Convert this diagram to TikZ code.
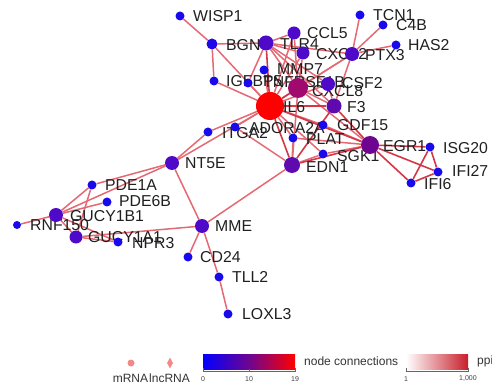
\documentclass[tikz,border=0pt]{standalone}
\usepackage{fontspec}
\setmainfont{Liberation Sans}
\usetikzlibrary{shapes.geometric}
\pgfdeclarelayer{edges}
\pgfdeclarelayer{labels}
\pgfsetlayers{edges,labels,main}
\definecolor{cblue}{RGB}{25,10,235}
\definecolor{cpurp}{RGB}{78,10,200}
\definecolor{cpurp2}{RGB}{95,10,175}
\definecolor{cdpurp}{RGB}{110,5,145}
\definecolor{cmag}{RGB}{160,10,110}
\definecolor{cred}{RGB}{255,0,0}
\definecolor{cedge}{RGB}{228,105,115}
\definecolor{cedge2}{RGB}{212,55,70}
\definecolor{cpink}{RGB}{245,135,135}
\definecolor{cppi}{RGB}{200,30,42}
\tikzset{
  gn/.style={circle,inner sep=0pt,minimum size=#1,draw=none},
  gn/.default=9pt,
  lab/.style={anchor=west,inner sep=0pt,font=\fontsize{15.8}{16}\selectfont,text=black!88},
  leg/.style={inner sep=0pt,font=\fontsize{12}{12}\selectfont,text=black!80},
  tick/.style={inner sep=0pt,font=\fontsize{7}{7}\selectfont,text=black!75},
  ed/.style={draw=cedge,line width=1.5pt},
  eds/.style={draw=cedge2,line width=1.6pt}
}
\begin{document}
\begin{tikzpicture}[x=1pt,y=-1pt]
\useasboundingbox (0,0) rectangle (492,387);
% ---------- nodes ----------
\node[gn=9pt,fill=cblue] (WISP1) at (180,16) {};
\node[gn=11pt,fill=cblue!90!cpurp] (BGN) at (212,44) {};
\node[gn=15pt,fill=cpurp] (TLR4) at (266,43) {};
\node[gn=13pt,fill=cpurp] (CCL5) at (294,33) {};
\node[gn=13pt,fill=cpurp] (CXCL2) at (303,53) {};
\node[gn=14pt,fill=cpurp] (PTX3) at (352,54) {};
\node[gn=9pt,fill=cblue] (TCN1) at (360,15) {};
\node[gn=9pt,fill=cblue] (C4B) at (383,25) {};
\node[gn=9pt,fill=cblue] (HAS2) at (396,45) {};
\node[gn=9pt,fill=cblue] (MMP7) at (264,70) {};
\node[gn=9pt,fill=cblue] (IGFBP5) at (214,81) {};
\node[gn=9pt,fill=cblue] (TNFRSF1B) at (248,83) {};
\node[gn=20pt,fill=cmag] (CXCL8) at (298,88) {};
\node[gn=14pt,fill=cpurp] (CSF2) at (328,84) {};
\node[gn=28pt,fill=cred] (IL6) at (270,106) {};
\node[gn=15pt,fill=cpurp2] (F3) at (334,106) {};
\node[gn=9pt,fill=cblue] (ITGA2) at (208,132) {};
\node[gn=9pt,fill=cblue] (ADORA2A) at (235,127) {};
\node[gn=9pt,fill=cblue] (GDF15) at (323,125) {};
\node[gn=9pt,fill=cblue] (PLAT) at (293,138) {};
\node[gn=9pt,fill=cblue] (SGK1) at (323,154) {};
\node[gn=16pt,fill=cpurp2] (EDN1) at (292,165) {};
\node[gn=18pt,fill=cdpurp] (EGR1) at (370,145) {};
\node[gn=9pt,fill=cblue] (ISG20) at (430,147) {};
\node[gn=9pt,fill=cblue] (IFI27) at (438,172) {};
\node[gn=9pt,fill=cblue] (IFI6) at (411,183) {};
\node[gn=14pt,fill=cpurp] (NT5E) at (172,163) {};
\node[gn=9pt,fill=cblue] (PDE1A) at (92,185) {};
\node[gn=9pt,fill=cblue] (PDE6B) at (107,202) {};
\node[gn=14pt,fill=cpurp] (GUCY1B1) at (56,215) {};
\node[gn=8pt,fill=cblue] (RNF150) at (17,225) {};
\node[gn=13pt,fill=cpurp] (GUCY1A1) at (76,237) {};
\node[gn=9pt,fill=cblue] (NPR3) at (118,242) {};
\node[gn=14pt,fill=cpurp] (MME) at (202,226) {};
\node[gn=9pt,fill=cblue] (CD24) at (188,257) {};
\node[gn=9pt,fill=cblue] (TLL2) at (219,277) {};
\node[gn=9pt,fill=cblue] (LOXL3) at (228,314) {};
% ---------- labels ----------
\begin{pgfonlayer}{labels}
\node[lab] (lWISP1) at (193,16) {WISP1};
\node[lab] (lBGN) at (226,45) {BGN};
\node[lab] (lTLR4) at (280,44) {TLR4};
\node[lab] (lCCL5) at (307,33) {CCL5};
\node[lab] (lCXCL2) at (316,54) {CXCL2};
\node[lab] (lPTX3) at (365,55) {PTX3};
\node[lab] (lTCN1) at (373,15) {TCN1};
\node[lab] (lC4B) at (396,25) {C4B};
\node[lab] (lHAS2) at (408,45) {HAS2};
\node[lab] (lMMP7) at (277,69) {MMP7};
\node[lab] (lIGFBP5) at (226,81) {IGFBP5};
\node[lab] (lTNFRSF1B) at (263,82) {TNFRSF1B};
\node[lab] (lCXCL8) at (312,91) {CXCL8};
\node[lab] (lCSF2) at (342,83) {CSF2};
\node[lab] (lIL6) at (283,107) {IL6};
\node[lab] (lF3) at (347,107) {F3};
\node[lab] (lITGA2) at (222,133) {ITGA2};
\node[lab] (lADORA2A) at (249,128) {ADORA2A};
\node[lab] (lGDF15) at (337,125) {GDF15};
\node[lab] (lPLAT) at (306,139) {PLAT};
\node[lab] (lSGK1) at (337,156) {SGK1};
\node[lab] (lEDN1) at (306,167) {EDN1};
\node[lab] (lEGR1) at (383,146) {EGR1};
\node[lab] (lISG20) at (443,148) {ISG20};
\node[lab] (lIFI27) at (452,171) {IFI27};
\node[lab] (lIFI6) at (424,184) {IFI6};
\node[lab] (lNT5E) at (185,163) {NT5E};
\node[lab] (lPDE1A) at (105,185) {PDE1A};
\node[lab] (lPDE6B) at (119,201) {PDE6B};
\node[lab] (lGUCY1B1) at (70,216) {GUCY1B1};
\node[lab] (lRNF150) at (30,225) {RNF150};
\node[lab] (lGUCY1A1) at (88,237) {GUCY1A1};
\node[lab] (lNPR3) at (132,243) {NPR3};
\node[lab] (lMME) at (215,226) {MME};
\node[lab] (lCD24) at (200,257) {CD24};
\node[lab] (lTLL2) at (232,277) {TLL2};
\node[lab] (lLOXL3) at (242,314) {LOXL3};
\end{pgfonlayer}
% ---------- edges ----------
\begin{pgfonlayer}{edges}
\foreach \a/\b in {WISP1/BGN,BGN/TLR4,BGN/IGFBP5,BGN/IL6,IGFBP5/IL6,
  TLR4/CCL5,TLR4/CXCL2,TLR4/CXCL8,TLR4/CSF2,TLR4/F3,TLR4/TNFRSF1B,TLR4/PTX3,
  CCL5/IL6,CCL5/CXCL8,CXCL2/IL6,CXCL2/CXCL8,
  PTX3/TCN1,PTX3/C4B,PTX3/HAS2,PTX3/IL6,PTX3/CXCL8,PTX3/F3,
  MMP7/IL6,TNFRSF1B/IL6,CXCL8/F3,CXCL8/EDN1,CXCL8/EGR1,CSF2/IL6,CSF2/F3,
  IL6/ITGA2,IL6/ADORA2A,IL6/NT5E,IL6/PLAT,IL6/GDF15,IL6/SGK1,
  EGR1/GDF15,EGR1/SGK1,EGR1/PLAT,
  EDN1/ADORA2A,EDN1/PLAT,EDN1/SGK1,EDN1/MME,
  NT5E/ITGA2,NT5E/PDE1A,NT5E/GUCY1B1,NT5E/MME,
  GUCY1B1/RNF150,GUCY1B1/PDE1A,GUCY1B1/PDE6B,GUCY1B1/GUCY1A1,GUCY1B1/NPR3,
  GUCY1A1/PDE1A,GUCY1A1/NPR3,GUCY1A1/MME,
  MME/CD24,MME/TLL2,TLL2/LOXL3}
  \draw[ed] (\a) -- (\b);
\foreach \a/\b in {TLR4/IL6,CXCL8/IL6,F3/IL6,IL6/EDN1,IL6/EGR1,F3/EGR1,F3/EDN1,
  EGR1/EDN1,EGR1/ISG20,EGR1/IFI27,EGR1/IFI6,ISG20/IFI27,ISG20/IFI6,IFI27/IFI6}
  \draw[eds] (\a) -- (\b);
\end{pgfonlayer}
% ---------- legend ----------
\node[circle,inner sep=0pt,minimum size=7pt,fill=cpink] (lgm) at (131,363) {};
\node[diamond,inner sep=0pt,minimum width=6pt,minimum height=11pt,fill=cpink] (lgl) at (170,363) {};
\node[leg] (tm) at (130.5,378) {mRNA};
\node[leg] (tl) at (169.5,378) {lncRNA};
\shade[left color=blue,right color=red,middle color=cdpurp] (203,354) rectangle (295,369);
\draw[black!60,line width=0.4pt] (203,368) -- (203,371) -- (295,371) -- (295,368) (249,371) -- (249,369);
\node[tick] (t0) at (203,379) {0};
\node[tick] (t10) at (249,379) {10};
\node[tick] (t19) at (295,379) {19};
\node[leg,anchor=west] (nc) at (304,361) {node connections};
\shade[left color=white,right color=cppi] (406,354) rectangle (468,369);
\draw[black!60,line width=0.4pt] (406,368) -- (406,371) -- (468,371) -- (468,368);
\node[tick] (t1) at (406,379) {1};
\node[tick] (t1000) at (468,379) {1,000};
\node[leg,anchor=west] (ppi) at (477,361) {ppi};
\end{tikzpicture}
\end{document}
